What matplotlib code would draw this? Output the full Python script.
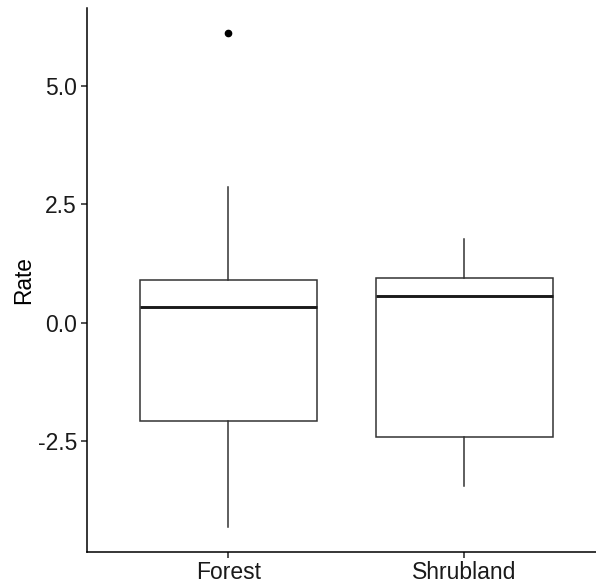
import matplotlib
matplotlib.use("Agg")
import matplotlib.pyplot as plt

plt.rcParams['font.family'] = ['Liberation Sans', 'DejaVu Sans']
plt.rcParams['axes.unicode_minus'] = False

categories = ["Forest", "Shrubland"]
whisker_low = [-4.32, -3.46]
q1 = [-2.08, -2.42]
median = [0.33, 0.57]
q3 = [0.89, 0.94]
whisker_high = [2.87, 1.76]
outliers = [[6.12], []]
yticks = [-2.5, 0.0, 2.5, 5.0]
ytick_labels = ["-2.5", "0.0", "2.5", "5.0"]

stats = []
for i, c in enumerate(categories):
    stats.append(dict(label=c, whislo=whisker_low[i], q1=q1[i], med=median[i],
                      q3=q3[i], whishi=whisker_high[i], fliers=outliers[i]))

fig = plt.figure(figsize=(5.96, 5.86), dpi=100)
ax = fig.add_axes([86.7/596, (586-551.7)/586, (606-86.7)/596, (551.7-8.3)/586])

positions = list(range(1, len(categories) + 1))
ax.bxp(stats, positions=positions, widths=0.75, showcaps=False, patch_artist=True,
       boxprops=dict(facecolor='white', edgecolor='#333333', linewidth=1.1),
       whiskerprops=dict(color='#333333', linewidth=1.1),
       medianprops=dict(color='#1a1a1a', linewidth=2.1),
       flierprops=dict(marker='o', markerfacecolor='black', markeredgecolor='black',
                       markersize=4.5))

ax.set_xlim(0.4, 2.6)
ax.set_ylim(-4.84, 6.64)
ax.set_xticks(positions)
ax.set_xticklabels(categories)
ax.set_yticks(yticks)
ax.set_yticklabels(ytick_labels)
ax.set_ylabel("Rate", fontsize=16.3, color='black', labelpad=2)

for s in ['top', 'right']:
    ax.spines[s].set_visible(False)
for s in ['left', 'bottom']:
    ax.spines[s].set_linewidth(1.1)
    ax.spines[s].set_color('black')
ax.tick_params(axis='both', length=4, width=1.1, color='#222222', labelsize=16.5,
               labelcolor='#1a1a1a', pad=3)
ax.set_facecolor('white')
fig.patch.set_facecolor('white')

fig.savefig("out.png", dpi=100)
